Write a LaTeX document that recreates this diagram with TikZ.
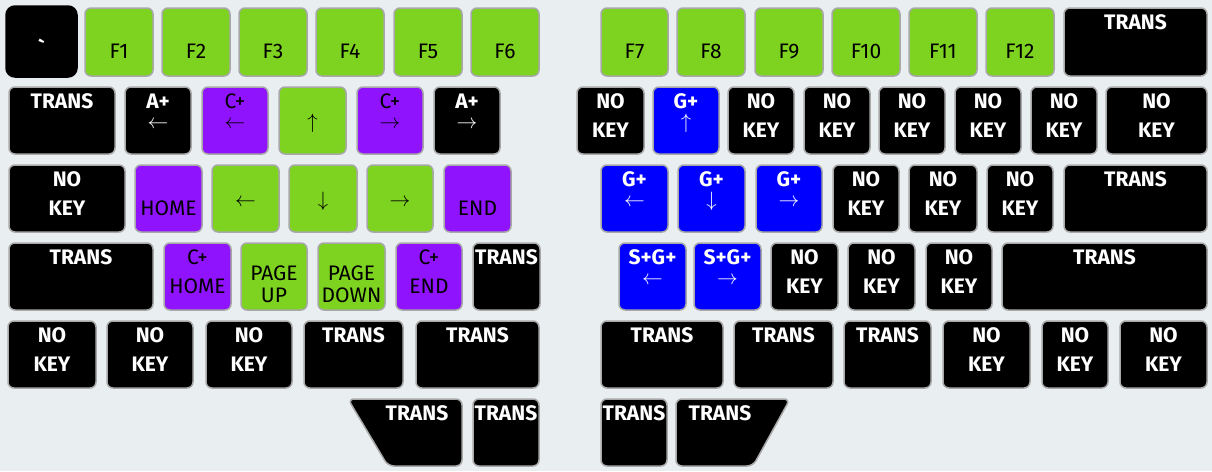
\documentclass[tikz,border=0pt]{standalone}
\usepackage{fontspec}
\setmainfont{Fira Sans}
\usetikzlibrary{calc}
\definecolor{bg}{HTML}{E9EEF1}
\definecolor{kgreen}{HTML}{7ED321}
\definecolor{kpurple}{HTML}{9013FE}
\definecolor{kblue}{HTML}{0000FF}
\definecolor{kedge}{HTML}{A8A8A8}
\tikzset{
  keybase/.style={draw=kedge, line width=1.5pt, rounded corners=6pt, inner sep=0pt, outer sep=0pt, anchor=north west},
  blkkey/.style={keybase, fill=black},
  grnkey/.style={keybase, fill=kgreen},
  purkey/.style={keybase, fill=kpurple},
  blukey/.style={keybase, fill=kblue},
  actkey/.style={keybase, fill=black, draw=black, rounded corners=9pt},
  blktxt/.style={inner sep=0pt, anchor=base, text=white, font=\fontsize{21}{20}\selectfont\bfseries},
  blutxt/.style={blktxt},
  acttxt/.style={blktxt},
  grntxt/.style={inner sep=0pt, anchor=base, text=black, font=\fontsize{21}{20}\selectfont},
  purtxt/.style={grntxt},
}
% key body
\newcommand\key[6]{\node[#6key, minimum width={#4-#2}, minimum height={#5-#3}] (#1) at (#2,#3) {};}
% top line
\newcommand\Lt[3]{\node[#2txt] (#1-t) at ($(#1.north)+(0,21)$) {#3};}
% second line
\newcommand\Lb[3]{\node[#2txt] (#1-b) at ($(#1.north)+(0,50)$) {#3};}
% arrow alone
\newcommand\La[3]{\node[#2txt] (#1-r) at ($(#1.north)+(0,41)$) {$#3$};}
% top line with arrow below (one label)
\newcommand\Lta[4]{\node[#2txt] (#1-t) at ($(#1.north)+(0,21)$)
  {\begin{tabular}[t]{@{}c@{}}#3\\$#4$\end{tabular}};}
% wrapped second line
\newcommand\Lw[4]{\node[#2txt] (#1-w) at ($(#1.north)+(0,37)$)
  {\def\arraystretch{1.1}\begin{tabular}[t]{@{}c@{}}#3\\#4\end{tabular}};}
\begin{document}
\begin{tikzpicture}[x=1pt,y=-1pt]
\fill[bg] (0,0) rectangle (1212,471);
\useasboundingbox (0,0) rectangle (1212,471);
% ---------- row 0
\key{grave}{6}{6}{77}{77}{act} \Lb{grave}{act}{\textasciigrave}
\key{f1}{85}{8}{153}{76}{grn} \Lb{f1}{grn}{F1}
\key{f2}{162}{8}{230}{76}{grn} \Lb{f2}{grn}{F2}
\key{f3}{239}{8}{307}{76}{grn} \Lb{f3}{grn}{F3}
\key{f4}{316}{8}{384}{76}{grn} \Lb{f4}{grn}{F4}
\key{f5}{394}{8}{462}{76}{grn} \Lb{f5}{grn}{F5}
\key{f6}{471}{8}{539}{76}{grn} \Lb{f6}{grn}{F6}
\key{f7}{601}{8}{668}{76}{grn} \Lb{f7}{grn}{F7}
\key{f8}{677}{8}{745}{76}{grn} \Lb{f8}{grn}{F8}
\key{f9}{755}{8}{823}{76}{grn} \Lb{f9}{grn}{F9}
\key{f10}{832}{8}{900}{76}{grn} \Lb{f10}{grn}{F10}
\key{f11}{909}{8}{977}{76}{grn} \Lb{f11}{grn}{F11}
\key{f12}{986}{8}{1054}{76}{grn} \Lb{f12}{grn}{F12}
\key{r0t}{1064}{8}{1207}{76}{blk} \Lt{r0t}{blk}{TRANS}
% ---------- row 1
\key{l1a}{9}{87}{115}{154}{blk} \Lt{l1a}{blk}{TRANS}
\key{l1b}{125}{87}{191}{154}{blk} \Lta{l1b}{blk}{A+}{\leftarrow}
\key{l1c}{202}{87}{268}{154}{pur} \Lta{l1c}{pur}{C+}{\leftarrow}
\key{l1d}{279}{87}{346}{154}{grn} \La{l1d}{grn}{\uparrow}
\key{l1e}{357}{87}{423}{154}{pur} \Lta{l1e}{pur}{C+}{\rightarrow}
\key{l1f}{434}{87}{500}{154}{blk} \Lta{l1f}{blk}{A+}{\rightarrow}
\key{r1a}{577}{87}{644}{154}{blk} \Lt{r1a}{blk}{NO} \Lb{r1a}{blk}{KEY}
\key{r1b}{653}{87}{719}{154}{blu} \Lta{r1b}{blu}{G+}{\uparrow}
\key{r1c}{728}{87}{794}{154}{blk} \Lt{r1c}{blk}{NO} \Lb{r1c}{blk}{KEY}
\key{r1d}{804}{87}{870}{154}{blk} \Lt{r1d}{blk}{NO} \Lb{r1d}{blk}{KEY}
\key{r1e}{879}{87}{945}{154}{blk} \Lt{r1e}{blk}{NO} \Lb{r1e}{blk}{KEY}
\key{r1f}{955}{87}{1021}{154}{blk} \Lt{r1f}{blk}{NO} \Lb{r1f}{blk}{KEY}
\key{r1g}{1031}{87}{1097}{154}{blk} \Lt{r1g}{blk}{NO} \Lb{r1g}{blk}{KEY}
\key{r1h}{1106}{87}{1207}{154}{blk} \Lt{r1h}{blk}{NO} \Lb{r1h}{blk}{KEY}
% ---------- row 2
\key{l2a}{9}{165}{125}{232}{blk} \Lt{l2a}{blk}{NO} \Lb{l2a}{blk}{KEY}
\key{l2b}{135}{165}{202}{232}{pur} \Lb{l2b}{pur}{HOME}
\key{l2c}{212}{165}{279}{232}{grn} \La{l2c}{grn}{\leftarrow}
\key{l2d}{289}{165}{357}{232}{grn} \La{l2d}{grn}{\downarrow}
\key{l2e}{367}{165}{433}{232}{grn} \La{l2e}{grn}{\rightarrow}
\key{l2f}{444}{165}{511}{232}{pur} \Lb{l2f}{pur}{END}
\key{r2a}{601}{165}{668}{232}{blu} \Lta{r2a}{blu}{G+}{\leftarrow}
\key{r2b}{678}{165}{745}{232}{blu} \Lta{r2b}{blu}{G+}{\downarrow}
\key{r2c}{756}{165}{822}{232}{blu} \Lta{r2c}{blu}{G+}{\rightarrow}
\key{r2d}{833}{165}{899}{232}{blk} \Lt{r2d}{blk}{NO} \Lb{r2d}{blk}{KEY}
\key{r2e}{909}{165}{977}{232}{blk} \Lt{r2e}{blk}{NO} \Lb{r2e}{blk}{KEY}
\key{r2f}{987}{165}{1053}{232}{blk} \Lt{r2f}{blk}{NO} \Lb{r2f}{blk}{KEY}
\key{r2g}{1064}{165}{1207}{232}{blk} \Lt{r2g}{blk}{TRANS}
% ---------- row 3
\key{l3a}{9}{243}{153}{310}{blk} \Lt{l3a}{blk}{TRANS}
\key{l3b}{164}{243}{231}{310}{pur} \Lt{l3b}{pur}{C+} \Lb{l3b}{pur}{HOME}
\key{l3c}{241}{243}{307}{310}{grn} \Lw{l3c}{grn}{PAGE}{UP}
\key{l3d}{318}{243}{385}{310}{grn} \Lw{l3d}{grn}{PAGE}{DOWN}
\key{l3e}{396}{243}{462}{310}{pur} \Lt{l3e}{pur}{C+} \Lb{l3e}{pur}{END}
\key{l3f}{473}{243}{540}{310}{blk} \Lt{l3f}{blk}{TRANS}
\key{r3a}{619}{243}{686}{310}{blu} \Lta{r3a}{blu}{S+G+}{\leftarrow}
\key{r3b}{694}{243}{761}{310}{blu} \Lta{r3b}{blu}{S+G+}{\rightarrow}
\key{r3c}{771}{243}{838}{310}{blk} \Lt{r3c}{blk}{NO} \Lb{r3c}{blk}{KEY}
\key{r3d}{848}{243}{915}{310}{blk} \Lt{r3d}{blk}{NO} \Lb{r3d}{blk}{KEY}
\key{r3e}{926}{243}{992}{310}{blk} \Lt{r3e}{blk}{NO} \Lb{r3e}{blk}{KEY}
\key{r3f}{1002}{243}{1207}{310}{blk} \Lt{r3f}{blk}{TRANS}
% ---------- row 4
\key{l4a}{8}{321}{96}{388}{blk} \Lt{l4a}{blk}{NO} \Lb{l4a}{blk}{KEY}
\key{l4b}{107}{321}{193}{388}{blk} \Lt{l4b}{blk}{NO} \Lb{l4b}{blk}{KEY}
\key{l4c}{206}{321}{292}{388}{blk} \Lt{l4c}{blk}{NO} \Lb{l4c}{blk}{KEY}
\key{l4d}{304}{321}{403}{388}{blk} \Lt{l4d}{blk}{TRANS}
\key{l4e}{416}{321}{539}{388}{blk} \Lt{l4e}{blk}{TRANS}
\key{r4a}{601}{321}{723}{388}{blk} \Lt{r4a}{blk}{TRANS}
\key{r4b}{734}{321}{833}{388}{blk} \Lt{r4b}{blk}{TRANS}
\key{r4c}{844}{321}{931}{388}{blk} \Lt{r4c}{blk}{TRANS}
\key{r4d}{943}{321}{1030}{388}{blk} \Lt{r4d}{blk}{NO} \Lb{r4d}{blk}{KEY}
\key{r4e}{1042}{321}{1108}{388}{blk} \Lt{r4e}{blk}{NO} \Lb{r4e}{blk}{KEY}
\key{r4f}{1120}{321}{1207}{388}{blk} \Lt{r4f}{blk}{NO} \Lb{r4f}{blk}{KEY}
% ---------- thumbs
\draw[draw=kedge, line width=1.5pt, rounded corners=6pt, fill=black]
  (348,399) -- (462,399) -- (462,466) -- (388,466) -- cycle;
\node[blktxt] (lt1) at (417,420) {TRANS};
\key{lt2}{473}{399}{539}{466}{blk} \Lt{lt2}{blk}{TRANS}
\key{rt1}{601}{399}{667}{466}{blk} \Lt{rt1}{blk}{TRANS}
\draw[draw=kedge, line width=1.5pt, rounded corners=6pt, fill=black]
  (676,399) -- (790,399) -- (753,466) -- (676,466) -- cycle;
\node[blktxt] (rt2) at (720,420) {TRANS};
\end{tikzpicture}
\end{document}
